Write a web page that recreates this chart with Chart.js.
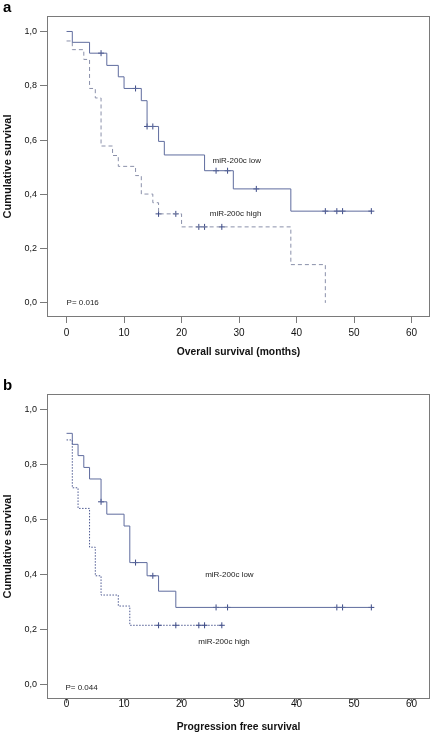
<!DOCTYPE html>
<html><head><meta charset="utf-8">
<script src="https://cdn.jsdelivr.net/npm/chart.js@4"></script>
<style>
html,body{margin:0;padding:0;background:#fff;}
#wrap{position:relative;width:435px;height:733px;overflow:hidden;}
canvas{position:absolute;left:0;}
#ca{top:0;} #cb{top:366px;}
</style></head><body>
<div id="wrap"><canvas id="ca" width="435" height="366"></canvas><canvas id="cb" width="435" height="367"></canvas></div>
<script>
// ---- tick labels ----
const xTicks = [0, 10, 20, 30, 40, 50, 60];
const yTicks = [0, 0.2, 0.4, 0.6, 0.8, 1.0];

// ---- Panel a: overall survival ----
const osLowTime  = [0, 1, 4, 7, 9, 10, 13, 14, 16, 17, 24, 29, 39, 53];
const osLowSurv  = [1.0, 0.96, 0.92, 0.875, 0.833, 0.79, 0.745, 0.65, 0.595, 0.545, 0.487, 0.42, 0.338, 0.338];
const osLowCensT = [6, 12, 14, 15, 26, 28, 33, 45, 47, 48, 53];
const osLowCensS = [0.92, 0.79, 0.65, 0.65, 0.487, 0.487, 0.42, 0.338, 0.338, 0.338, 0.338];

const osHighTime  = [0, 1, 3, 4, 5, 6, 8, 9, 12, 13, 15, 16, 20, 39, 45];
const osHighSurv  = [0.965, 0.933, 0.897, 0.79, 0.755, 0.578, 0.543, 0.503, 0.469, 0.401, 0.369, 0.328, 0.28, 0.141, 0.0];
const osHighCensT = [16, 19, 23, 24, 27];
const osHighCensS = [0.328, 0.328, 0.28, 0.28, 0.28];

// ---- Panel b: progression free survival ----
const pfsLowTime  = [0, 1, 2, 3, 4, 6, 7, 10, 11, 14, 16, 19, 53];
const pfsLowSurv  = [0.914, 0.874, 0.833, 0.79, 0.748, 0.665, 0.62, 0.577, 0.444, 0.396, 0.34, 0.281, 0.281];
const pfsLowCensT = [6, 12, 15, 26, 28, 47, 48, 53];
const pfsLowCensS = [0.665, 0.444, 0.396, 0.281, 0.281, 0.281, 0.281, 0.281];

const pfsHighTime  = [0, 1, 2, 4, 5, 6, 9, 11, 27];
const pfsHighSurv  = [0.89, 0.716, 0.641, 0.5, 0.396, 0.326, 0.286, 0.216, 0.216];
const pfsHighCensT = [16, 19, 23, 24, 27];
const pfsHighCensS = [0.216, 0.216, 0.216, 0.216, 0.216];

const FONT = '"Liberation Sans", Arial, sans-serif';
const pts = (xs, ys) => xs.map((v, i) => ({x: v, y: ys[i]}));

const decor = {
  id: 'decor',
  afterDatasetsDraw(chart, args, opts) {
    const {ctx, chartArea: a, scales: {x, y}} = chart;
    ctx.save();
    ctx.strokeStyle = '#7a7a7a'; ctx.lineWidth = 1;
    ctx.strokeRect(Math.round(a.left) + 0.5, Math.round(a.top) + 0.5,
                   Math.round(a.right - a.left) - 1, Math.round(a.bottom - a.top) - 1);
    ctx.fillStyle = '#222'; ctx.font = '8px ' + FONT;
    ctx.textBaseline = 'middle'; ctx.textAlign = 'left';
    for (const it of opts.items) ctx.fillText(it.text, x.getPixelForValue(it.x), y.getPixelForValue(it.y));
    ctx.fillStyle = '#000';
    ctx.font = 'bold 15px ' + FONT; ctx.textBaseline = 'alphabetic';
    ctx.fillText(opts.letter, opts.lx, opts.ly);
    ctx.restore();
  }
};

function makeChart(id, cfg) {
  const lowColor = '#5f6c9e', censColor = '#3c4a86';
  return new Chart(document.getElementById(id), {
    type: 'line',
    data: {
      datasets: [
        {data: pts(cfg.lowT, cfg.lowS), stepped: 'before', borderColor: lowColor, borderWidth: 1, pointRadius: 0, fill: false},
        {data: pts(cfg.highT, cfg.highS), stepped: 'before', borderColor: cfg.highColor, borderWidth: 1, borderDash: cfg.dash, pointRadius: 0, fill: false},
        {type: 'scatter', data: pts(cfg.lowCT, cfg.lowCS), showLine: false, pointStyle: 'cross', pointRadius: 3, pointBorderWidth: 1, borderColor: censColor, backgroundColor: censColor},
        {type: 'scatter', data: pts(cfg.highCT, cfg.highCS), showLine: false, pointStyle: 'cross', pointRadius: 3, pointBorderWidth: 1, borderColor: censColor, backgroundColor: censColor}
      ]
    },
    options: {
      responsive: false, animation: false,
      layout: {padding: {top: cfg.padTop, right: 5, left: 0, bottom: 0}},
      plugins: {legend: {display: false}, tooltip: {enabled: false},
        decor: {items: cfg.items, letter: cfg.letter, lx: 3, ly: cfg.letterY}},
      scales: {
        x: {type: 'linear', min: -3.4, max: 63.2,
          afterBuildTicks: s => { s.ticks = xTicks.map(v => ({value: v})); },
          afterFit: s => { s.height = cfg.xH; },
          grid: {display: true, drawOnChartArea: false, drawTicks: true, tickLength: cfg.xTickLen, color: '#7a7a7a'},
          border: {display: false},
          ticks: {color: '#111', font: {family: FONT, size: 10}, padding: cfg.xTickPad, maxRotation: 0, autoSkip: false},
          title: {display: true, text: cfg.xTitle, color: '#111', font: {family: FONT, size: 10.3, weight: 'bold'}, padding: {top: 0, bottom: cfg.xTitlePad}}
        },
        y: {type: 'linear', min: -0.052, max: 1.057,
          afterBuildTicks: s => { s.ticks = yTicks.map(v => ({value: v})); },
          afterFit: s => { s.width = 47; },
          grid: {display: true, drawOnChartArea: false, drawTicks: true, tickLength: 7, color: '#7a7a7a'},
          border: {display: false},
          ticks: {color: '#111', font: {family: FONT, size: 9}, padding: 3,
            callback: v => v.toFixed(1).replace('.', ',')},
          title: {display: true, text: 'Cumulative survival', color: '#111', font: {family: FONT, size: 11, weight: 'bold'}, padding: {top: 1, bottom: 0}}
        }
      }
    },
    plugins: [decor]
  });
}

makeChart('ca', {
  lowT: osLowTime, lowS: osLowSurv, lowCT: osLowCensT, lowCS: osLowCensS,
  highT: osHighTime, highS: osHighSurv, highCT: osHighCensT, highCS: osHighCensS,
  highColor: '#8a90aa', dash: [4, 3],
  padTop: 16, xH: 49, xTickLen: 6, xTickPad: 4, xTitlePad: 8,
  xTitle: 'Overall survival (months)', letter: 'a', letterY: 12,
  items: [{x: 25.4, y: 0.524, text: 'miR-200c low'}, {x: 24.9, y: 0.328, text: 'miR-200c high'}, {x: 0, y: 0.0, text: 'P= 0.016'}]
});

makeChart('cb', {
  lowT: pfsLowTime, lowS: pfsLowSurv, lowCT: pfsLowCensT, lowCS: pfsLowCensS,
  highT: pfsHighTime, highS: pfsHighSurv, highCT: pfsHighCensT, highCS: pfsHighCensS,
  highColor: '#4e5a92', dash: [1.5, 1.5],
  padTop: 28, xH: 34, xTickLen: 4, xTickPad: -5, xTitlePad: 0,
  xTitle: 'Progression free survival', letter: 'b', letterY: 24,
  items: [{x: 24.1, y: 0.401, text: 'miR-200c low'}, {x: 22.9, y: 0.156, text: 'miR-200c high'}, {x: -0.2, y: -0.013, text: 'P= 0.044'}]
});
</script>
</body></html>
